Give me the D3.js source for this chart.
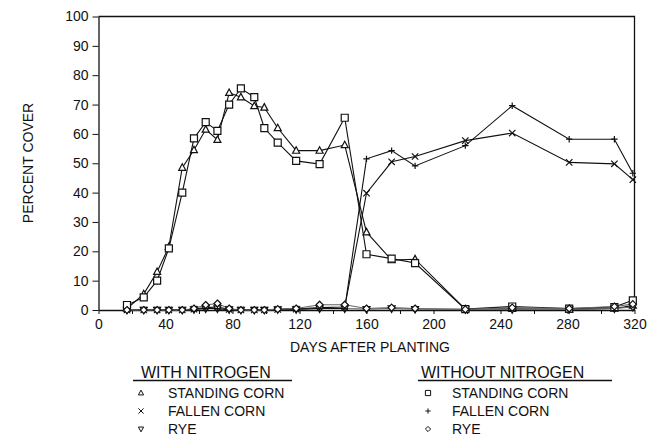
<!DOCTYPE html>
<html>
<head>
<meta charset="utf-8">
<script src="https://cdn.jsdelivr.net/npm/d3@7"></script>
<style>
  html, body { margin: 0; padding: 0; background: #fff; }
  svg { display: block; font-family: "Liberation Sans", Arial, Helvetica, sans-serif; }
  .axis text { font-size: 14px; fill: #111; }
  .axis line, .axis path { stroke: #111; }
</style>
</head>
<body>
<svg id="chart" width="648" height="439"></svg>
<script>
// ---- data ----
const days = [17, 27, 35, 42, 50, 57, 64, 71, 78, 85, 93, 99, 107, 118, 132, 147, 160, 175, 189, 219, 247, 281, 308, 319];
const standingWithN    = [0.5, 5.4, 13, 21.5, 48.5, 54.5, 61.5, 58, 74, 72.5, 69.5, 69, 62, 54.3, 54.3, 56.2, 26.5, 17, 17.3, 0.3, 0.4, 0.2, 0.5, 1.5];
const fallenWithN      = [0, 0, 0, 0, 0, 0.3, 0.8, 1, 0.2, 0, 0, 0, 0.2, 0.3, 0.8, 1, 39.8, 50.5, 52.3, 57.7, 60.3, 50.3, 49.8, 44.4];
const ryeWithN         = [0, 0, 0, 0, 0, 0.2, 0.5, 0.5, 0.2, 0, 0, 0, 0.2, 0.2, 0.5, 0.5, 0.3, 0.5, 0.3, 0.2, 0.2, 0.2, 0.5, 1];
const standingWithoutN = [1.7, 4.3, 10, 21, 40, 58.5, 64, 61, 70, 75.5, 72.5, 62, 57, 50.8, 49.7, 65.5, 19, 17.5, 16, 0.3, 1.2, 0.5, 1, 3.3];
const fallenWithoutN   = [0, 0, 0, 0, 0, 0.3, 0.5, 0.5, 0, 0, 0, 0, 0.2, 0.3, 0.5, 0.5, 51.5, 54.3, 49.1, 56, 69.6, 58.2, 58.2, 46.6];
const ryeWithoutN      = [0, 0, 0, 0, 0, 0.5, 1.7, 2.2, 0.5, 0, 0, 0, 0.3, 0.5, 1.8, 1.8, 0.5, 0.8, 0.5, 0.2, 0.8, 0.5, 1.2, 2];

const xTicks = [0, 20, 40, 60, 80, 100, 120, 140, 160, 180, 200, 220, 240, 260, 280, 300, 320];
const yTicks = [0, 10, 20, 30, 40, 50, 60, 70, 80, 90, 100];

const seriesNames = ["STANDING CORN", "FALLEN CORN", "RYE"];

// ---- series table ----
const series = [
  { group: 0, name: seriesNames[0], values: standingWithN,    marker: "triUp",   color: "#111" },
  { group: 0, name: seriesNames[1], values: fallenWithN,      marker: "x",       color: "#111" },
  { group: 0, name: seriesNames[2], values: ryeWithN,         marker: "triDown", color: "#666" },
  { group: 1, name: seriesNames[0], values: standingWithoutN, marker: "square",  color: "#111" },
  { group: 1, name: seriesNames[1], values: fallenWithoutN,   marker: "plus",    color: "#111" },
  { group: 1, name: seriesNames[2], values: ryeWithoutN,      marker: "diamond", color: "#666" }
];

function markerPath(type, s) {
  switch (type) {
    case "square":  return `M${-s},${-s}h${2*s}v${2*s}h${-2*s}Z`;
    case "triUp":   return `M0,${-s*1.1}L${s},${s*0.75}L${-s},${s*0.75}Z`;
    case "triDown": return `M0,${s*1.1}L${s},${-s*0.75}L${-s},${-s*0.75}Z`;
    case "x":       return `M${-s},${-s}L${s},${s}M${-s},${s}L${s},${-s}`;
    case "plus":    return `M${-s},0L${s},0M0,${-s}L0,${s}`;
    case "diamond": return `M0,${-s}L${s},0L0,${s}L${-s},0Z`;
  }
}
const openMarker = t => ["square", "triUp", "triDown", "diamond"].includes(t);

const svg = d3.select("#chart");
const x = d3.scaleLinear().domain([0, 320]).range([98.5, 634.5]);
const y = d3.scaleLinear().domain([0, 100]).range([310, 16.5]);

// frame (top and right)
svg.append("path")
  .attr("d", `M${x(0)},${y(100)}H${x(320)}V${y(0)}`)
  .attr("fill", "none").attr("stroke", "#111").attr("stroke-width", 1.3);

// axes
const yAxis = svg.append("g").attr("class", "axis")
  .attr("transform", `translate(${x(0)},0)`)
  .call(d3.axisLeft(y).tickValues(yTicks).tickSize(6).tickPadding(4).tickSizeOuter(0));
yAxis.select(".domain").attr("stroke-width", 1.3);

const xAxis = svg.append("g").attr("class", "axis")
  .attr("transform", `translate(0,${y(0)})`)
  .call(d3.axisBottom(x).tickValues(xTicks).tickSize(4).tickPadding(5).tickSizeOuter(0)
    .tickFormat(d => d % 40 === 0 ? d : ""));
xAxis.select(".domain").attr("stroke-width", 1.3);

// axis titles
svg.append("text").attr("x", 370).attr("y", 352).attr("text-anchor", "middle")
  .attr("font-size", 14).attr("fill", "#111").text("DAYS AFTER PLANTING");
svg.append("text").attr("transform", `translate(33,163) rotate(-90)`).attr("text-anchor", "middle")
  .attr("font-size", 14).attr("fill", "#111").text("PERCENT COVER");

// lines
const line = d3.line().x(d => x(d[0])).y(d => y(d[1]));
const plot = svg.append("g");
series.forEach(s => {
  const pts = days.map((d, i) => [d, s.values[i]]);
  plot.append("path").datum(pts).attr("d", line)
    .attr("fill", "none").attr("stroke", s.color).attr("stroke-width", 1.1);
});
// markers
series.forEach(s => {
  const pts = days.map((d, i) => [d, s.values[i]]);
  plot.selectAll(null).data(pts).enter().append("path")
    .attr("transform", d => `translate(${x(d[0])},${y(d[1])})`)
    .attr("d", markerPath(s.marker, s.marker === "x" || s.marker === "plus" ? 3.2 : 3.5))
    .attr("fill", openMarker(s.marker) ? "#fff" : "none")
    .attr("stroke", "#111").attr("stroke-width", 1.2);
});

// legend
const legendDefs = [
  { title: "WITH NITROGEN",    tx: 141, lx0: 133, lx1: 292, mx: 141, textX: 168 },
  { title: "WITHOUT NITROGEN", tx: 421, lx0: 418, lx1: 612, mx: 428, textX: 452 }
];
const rowY = [393, 411, 429];
legendDefs.forEach((L, gi) => {
  const g = svg.append("g");
  g.append("text").attr("x", L.tx).attr("y", 377.5).attr("font-size", 16).attr("fill", "#111").text(L.title);
  g.append("line").attr("x1", L.lx0).attr("x2", L.lx1).attr("y1", 380.5).attr("y2", 380.5)
    .attr("stroke", "#111").attr("stroke-width", 1.3);
  series.filter(s => s.group === gi).forEach((s, i) => {
    g.append("path").attr("transform", `translate(${L.mx},${rowY[i]})`)
      .attr("d", markerPath(s.marker, 2.6)).attr("fill", "none")
      .attr("stroke", "#111").attr("stroke-width", 1);
    g.append("text").attr("x", L.textX).attr("y", rowY[i] + 5).attr("font-size", 14)
      .attr("fill", "#111").text(s.name);
  });
});
</script>
</body>
</html>
